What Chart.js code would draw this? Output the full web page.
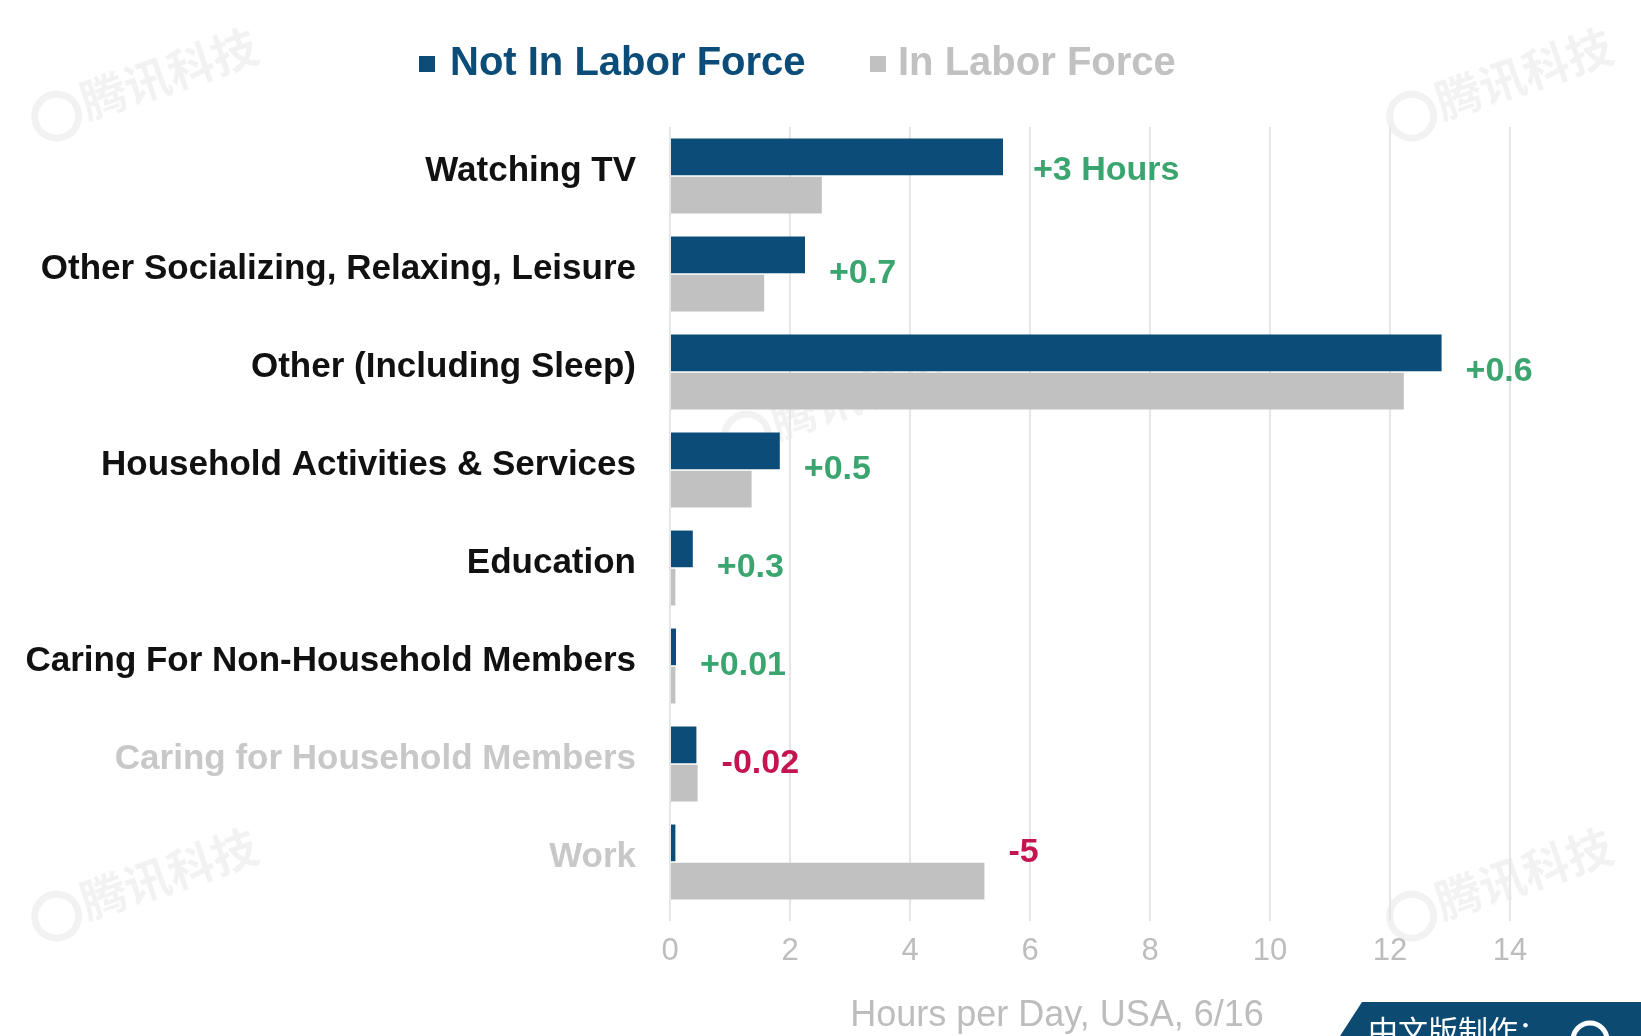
<!DOCTYPE html>
<html>
<head>
<meta charset="utf-8">
<script src="https://cdn.jsdelivr.net/npm/chart.js@4/dist/chart.umd.min.js"></script>
<style>
  html, body { margin: 0; padding: 0; background: #fff; }
  #wrap { width: 1641px; height: 1036px; position: relative; }
</style>
</head>
<body>
<div id="wrap"><canvas id="time-chart"></canvas></div>
<script>
// categorias (de cima para baixo)
const categories = [
  'Watching TV',
  'Other Socializing, Relaxing, Leisure',
  'Other (Including Sleep)',
  'Household Activities & Services',
  'Education',
  'Caring For Non-Household Members',
  'Caring for Household Members',
  'Work'
];
const notInLaborForce = [5.55, 2.25, 12.86, 1.83, 0.38, 0.10, 0.44, 0.09];
const inLaborForce    = [2.53, 1.57, 12.23, 1.36, 0.09, 0.09, 0.46, 5.24];
const diffLabels = ['+3 Hours', '+0.7', '+0.6', '+0.5', '+0.3', '+0.01', '-0.02', '-5'];
const mutedCategories = [6, 7]; // rótulos em cinza
const xTicks = [0, 2, 4, 6, 8, 10, 12, 14];
const axisTitle = 'Hours per Day, USA, 6/16';

const DARK = '#0b4d78';
const GRAY = '#c1c1c1';
const GREEN = '#3aa56f';
const RED = '#c4154f';
const FONT = '"Liberation Sans", Arial, sans-serif';

// rótulos de diferença à direita das barras
const diffPlugin = {
  id: 'diffLabels',
  afterDatasetsDraw(chart) {
    const { ctx, scales: { x, y } } = chart;
    ctx.save();
    ctx.font = 'bold 34px ' + FONT;
    ctx.textBaseline = 'middle';
    ctx.textAlign = 'left';
    diffLabels.forEach((txt, i) => {
      const v = Math.max(notInLaborForce[i], inLaborForce[i]);
      ctx.fillStyle = txt.startsWith('-') ? RED : GREEN;
      let dy = 0, dx = 24;
      if (i === 0) { dy = -5; dx = 30; }
      if (i === 7) { dy = -9; }
      ctx.fillText(txt, x.getPixelForValue(v) + dx, y.getPixelForValue(i) + dy);
    });
    ctx.restore();
  }
};

// legenda e título do eixo desenhados à mão
const legendPlugin = {
  id: 'customLegend',
  afterDraw(chart) {
    const ctx = chart.ctx;
    ctx.save();
    ctx.font = 'bold 40px ' + FONT;
    ctx.textBaseline = 'middle';
    ctx.textAlign = 'left';
    const items = [
      { text: chart.data.datasets[0].label, color: DARK, box: 419, tx: 450 },
      { text: chart.data.datasets[1].label, color: GRAY, box: 870, tx: 898 }
    ];
    items.forEach(it => {
      ctx.fillStyle = it.color;
      ctx.fillRect(it.box, 56, 16, 16);
      ctx.fillText(it.text, it.tx, 64);
    });
    ctx.font = '36px ' + FONT;
    ctx.fillStyle = '#bdbdbd';
    ctx.textAlign = 'center';
    ctx.fillText(axisTitle, 1057, 1016);
    ctx.restore();
  }
};

// marcas d'água e faixa do canto
const decoPlugin = {
  id: 'deco',
  beforeDraw(chart) {
    const ctx = chart.ctx;
    ctx.save();
    ctx.fillStyle = '#fff';
    ctx.fillRect(0, 0, chart.width, chart.height);
    const marks = [[150, 80], [1505, 80], [150, 880], [1505, 880], [840, 400]];
    ctx.font = 'bold 46px "Noto Sans CJK SC", sans-serif';
    ctx.textAlign = 'center';
    ctx.textBaseline = 'middle';
    marks.forEach(([mx, my]) => {
      ctx.save();
      ctx.translate(mx, my);
      ctx.rotate(-0.33);
      ctx.fillStyle = 'rgba(0,0,0,0.05)';
      ctx.strokeStyle = 'rgba(0,0,0,0.05)';
      ctx.lineWidth = 7;
      ctx.beginPath();
      ctx.arc(-100, 4, 22, 0, Math.PI * 2);
      ctx.stroke();
      ctx.fillText('腾讯科技', 20, 0);
      ctx.restore();
    });
    ctx.restore();
  },
  afterDraw(chart) {
    const ctx = chart.ctx;
    ctx.save();
    ctx.fillStyle = '#0d4a72';
    ctx.beginPath();
    ctx.moveTo(1362, 1002);
    ctx.lineTo(1641, 1002);
    ctx.lineTo(1641, 1036);
    ctx.lineTo(1340, 1036);
    ctx.closePath();
    ctx.fill();
    ctx.fillStyle = '#fff';
    ctx.font = '30px "Noto Sans CJK SC", sans-serif';
    ctx.textBaseline = 'top';
    ctx.fillText('中文版制作：', 1368, 1016);
    ctx.strokeStyle = '#fff';
    ctx.lineWidth = 5;
    ctx.beginPath();
    ctx.arc(1590, 1040, 17, 0, Math.PI * 2);
    ctx.stroke();
    ctx.restore();
  }
};

const ctx = document.getElementById('time-chart').getContext('2d');
const chart = new Chart(ctx, {
  type: 'bar',
  data: {
    labels: categories,
    datasets: [
      {
        label: 'Not In Labor Force',
        data: notInLaborForce,
        backgroundColor: DARK,
        barPercentage: 0.96,
        categoryPercentage: 0.78
      },
      {
        label: 'In Labor Force',
        data: inLaborForce,
        backgroundColor: GRAY,
        barPercentage: 0.96,
        categoryPercentage: 0.78
      }
    ]
  },
  options: {
    indexAxis: 'y',
    responsive: true,
    maintainAspectRatio: false,
    animation: false,
    layout: { padding: { top: 127, right: 131, bottom: 0, left: 0 } },
    plugins: {
      legend: { display: false },
      tooltip: { enabled: false }
    },
    scales: {
      x: {
        min: 0,
        max: 14,
        afterBuildTicks(axis) {
          axis.ticks = xTicks.map(v => ({ value: v }));
        },
        grid: { color: '#e6e6e6', lineWidth: 2, tickLength: 10 },
        border: { display: false },
        ticks: {
          color: '#bdbdbd',
          padding: 12,
          font: { family: FONT, size: 31 }
        },
        afterFit(axis) { axis.height = 125; }
      },
      y: {
        grid: { display: false, drawTicks: false },
        border: { display: false },
        ticks: {
          padding: 34,
          labelOffset: -5,
          color: (c) => mutedCategories.includes(c.index) ? '#c8c8c8' : '#111',
          font: { family: FONT, size: 35, weight: 'bold' }
        },
        afterFit(axis) { axis.width = 670; }
      }
    }
  },
  plugins: [decoPlugin, diffPlugin, legendPlugin]
});
</script>
</body>
</html>
